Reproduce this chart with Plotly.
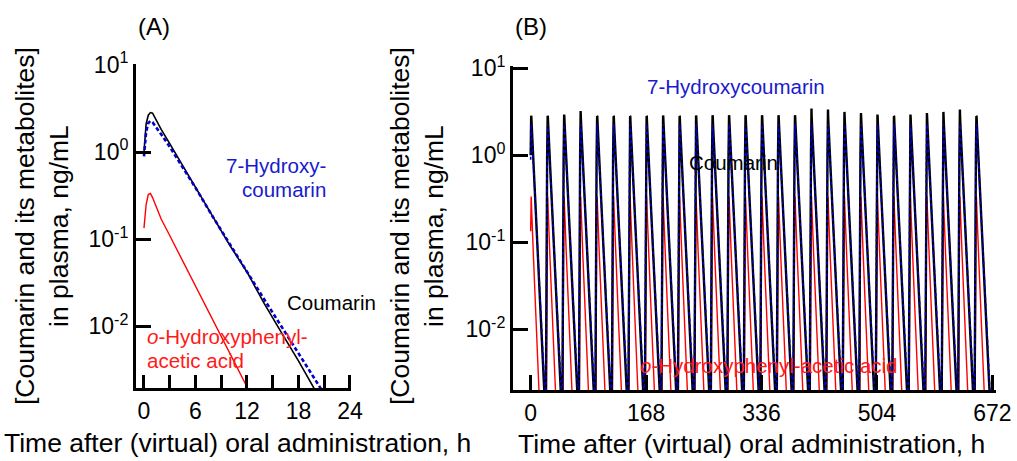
import plotly.graph_objects as go

# ---------------- data ----------------
# single (virtual) oral dose, panel A
t_h = [0, 0.25, 0.5, 0.75, 1, 1.5, 2, 3, 4, 6, 8, 10, 12, 14, 16, 18, 20, 22, 24]
coumarin = [1.00, 2.10, 2.65, 2.84, 2.80, 2.24, 1.82, 1.25, 0.85, 0.395, 0.183, 0.085,
            0.042, 0.0183, 0.0085, 0.0040, 0.0018, 0.00085, 0.0004]
hydroxycoumarin = [0.89, 1.70, 2.15, 2.27, 2.20, 1.85, 1.60, 1.15, 0.81, 0.39, 0.182, 0.087,
                   0.042, 0.0204, 0.0100, 0.0049, 0.0024, 0.00117, 0.00057]
ohpaa = [0.134, 0.25, 0.325, 0.335, 0.30, 0.23, 0.17, 0.110, 0.0705, 0.029, 0.0119, 0.0049,
         0.0020, 0.00083, 0.00034, 0.00014, 0.00006, 0.000025, 0.00001]

# repeated once-daily dosing, panel B
dose_interval_h = 24
n_doses = 28
# apparent coumarin peak of each daily spike in panel B
coumarin_peak_B = [2.84, 2.84, 2.94, 3.23, 2.81, 2.81, 2.81, 2.81, 2.86, 2.81,
                   2.86, 2.88, 2.88, 2.88, 2.88, 2.88, 2.88, 3.44, 3.35, 3.15,
                   3.06, 2.94, 2.81, 2.94, 3.06, 3.15, 3.35, 2.81]

xticks_A = [0, 6, 12, 18, 24]
xticklabels_A = ["0", "6", "12", "18", "24"]
xminor_A = 3
xticks_B = [0, 168, 336, 504, 672]
xticklabels_B = ["0", "168", "336", "504", "672"]
yticks = [0.01, 0.1, 1, 10]
yticklabels = ["10<sup>-2</sup>", "10<sup>-1</sup>", "10<sup>0</sup>", "10<sup>1</sup>"]

# ---------------- build panel B series from the dose schedule ----------------
peak_idx = coumarin.index(max(coumarin))
xb, yb_c, yb_h, yb_o = [], [], [], []
for k in range(n_doses):
    d = k * dose_interval_h
    last = (k == n_doses - 1)
    n = len(t_h) if last else len(t_h) - 1
    for i in range(n):
        xb.append(d + t_h[i])
        yb_c.append(coumarin_peak_B[k] if i == peak_idx else coumarin[i])
        yb_h.append(hydroxycoumarin[i])
        yb_o.append(ohpaa[i])

FONT = "Liberation Sans, Arial, Helvetica, sans-serif"
BLACK = "#000000"
BLUE = "#0000c8"
RED = "#ff0000"

fig = go.Figure()

def add_series(x, yc, yh, yo, xa, ya, wc, wh, dash):
    fig.add_trace(go.Scatter(x=x, y=yo, mode="lines", line=dict(color=RED, width=1.4),
                             xaxis=xa, yaxis=ya, showlegend=False,
                             name="o-Hydroxyphenylacetic acid"))
    fig.add_trace(go.Scatter(x=x, y=yc, mode="lines", line=dict(color=BLACK, width=wc),
                             xaxis=xa, yaxis=ya, showlegend=False, name="Coumarin"))
    fig.add_trace(go.Scatter(x=x, y=yh, mode="lines",
                             line=dict(color=BLUE, width=wh, dash=dash),
                             xaxis=xa, yaxis=ya, showlegend=False, name="7-Hydroxycoumarin"))

add_series(t_h, coumarin, hydroxycoumarin, ohpaa, "x", "y", 1.6, 2.6, "4px,2.5px")
add_series(xb, yb_c, yb_h, yb_o, "x2", "y2", 2.4, 1.6, "3px,3px")

W, H = 1017, 461
def px(x):
    return x / W
def py(y):
    return 1 - y / H

axis_common = dict(showline=True, linewidth=3, linecolor=BLACK, ticks="inside",
                   tickwidth=3, tickcolor=BLACK, showgrid=False, zeroline=False,
                   automargin=False,
                   tickfont=dict(family=FONT, size=23, color=BLACK))

fig.update_layout(
    template="none",
    width=W, height=H, autosize=False,
    margin=dict(l=0, r=0, t=0, b=0, pad=0),
    paper_bgcolor="white", plot_bgcolor="white",
    font=dict(family=FONT, color=BLACK),
    xaxis=dict(domain=[px(136), px(351)], range=[-0.93, 24.12], tickmode="array",
               tickvals=xticks_A, ticktext=xticklabels_A, ticklen=13, anchor="y",
               minor=dict(dtick=xminor_A, tick0=0, ticks="inside", ticklen=13,
                          tickwidth=3, tickcolor=BLACK, showgrid=False),
               **axis_common),
    yaxis=dict(domain=[py(388), py(64)], type="log", range=[-2.709, 1.011],
               tickmode="array", tickvals=yticks, ticktext=yticklabels, ticklen=15,
               anchor="x", **axis_common),
    xaxis2=dict(domain=[px(513), px(996)], range=[-25.7, 677.3], tickmode="array",
                tickvals=xticks_B, ticktext=xticklabels_B, ticklen=15, anchor="y2",
                **axis_common),
    yaxis2=dict(domain=[py(390), py(66)], type="log", range=[-2.698, 1.026],
                tickmode="array", tickvals=yticks, ticktext=yticklabels, ticklen=15,
                anchor="x2", **axis_common),
)

def note(text, x, y, size, color=BLACK, xanchor="center", angle=0):
    fig.add_annotation(text=text, x=px(x), y=py(y), xref="paper", yref="paper",
                       xanchor=xanchor, yanchor="middle", showarrow=False,
                       textangle=angle, font=dict(family=FONT, size=size, color=color))

# panel letters
note("(A)", 153.5, 27, 24)
note("(B)", 531, 27, 24)

# axis titles
ytitle = "[Coumarin and its metabolites]<br>in plasma, ng/mL"
note(ytitle, 42, 226, 26.5, angle=-90)
note(ytitle, 417, 226, 26.5, angle=-90)
xtitle = "Time after (virtual) oral administration, h"
note(xtitle, 237, 443, 26.5)
note(xtitle, 751, 444, 26.5)

# series labels, panel A
TBLUE = "#1a1acc"
TRED = "#ff1a1a"
note("7-Hydroxy-", 328, 165, 20.5, TBLUE, xanchor="right")
note("coumarin", 328, 189, 20.5, TBLUE, xanchor="right")
note("Coumarin", 331, 302, 20.5, BLACK)
note("<i>o</i>-Hydroxyphenyl-", 145, 336, 20.5, TRED, xanchor="left")
note("acetic acid", 145, 360, 20.5, TRED, xanchor="left")

# series labels, panel B
note("7-Hydroxycoumarin", 736, 86, 20.5, TBLUE)
note("Coumarin", 733, 163, 20.5, BLACK)
note("<i>o</i>-Hydroxyphenyl-acetic acid", 769, 365, 20.5, TRED)

fig.write_html("out.html",
               config={"displayModeBar": False, "staticPlot": True},
               post_script="document.body.style.margin='0px';"
                           "document.body.style.overflow='hidden';")
